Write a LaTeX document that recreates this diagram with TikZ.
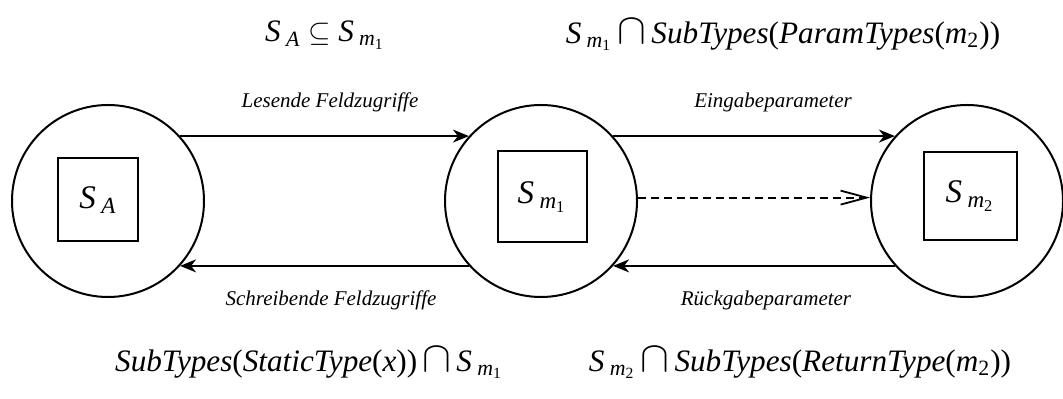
\documentclass[tikz,border=0pt]{standalone}
\usepackage{amsmath,amssymb}
\usepackage{fontspec}
\setmainfont{Liberation Serif}
\usetikzlibrary{arrows.meta,positioning}
\newcommand{\Sset}[1]{S\,$_{\textit{#1}}$}
\newcommand{\Sm}[1]{S\,$_{\textit{m}_{\textup{#1}}}$}
\newcommand{\capop}{\,\scalebox{1.5}{$\cap$}\,}
\newcommand{\pa}[1]{\textup{(}#1\textup{)}}
\tikzset{circ/.style={draw,circle,line width=1pt,minimum size=96pt,inner sep=0pt},
 sq/.style={draw,line width=1pt,inner sep=0pt,font=\fontsize{16.5}{20}\selectfont\itshape},
 arr/.style={-{Stealth[length=8pt,width=6.5pt,inset=2.5pt]},line width=.9pt},
 darr/.style={-{Straight Barb[length=13pt,width=7pt]},line width=.9pt,dash pattern=on 4pt off 2.5pt},
 lbl/.style={font=\fontsize{10.5}{12}\selectfont\itshape},
 frm/.style={font=\fontsize{15.6}{18}\selectfont\itshape}}
\begin{document}
\begin{tikzpicture}[x=0.5pt,y=-0.5pt]
\useasboundingbox (0,0) rectangle (1063,399);
% circles with the sets
\node[circ] (cA) at (108,201) {};
\node[circ] (cM1) at (541,201) {};
\node[circ] (cM2) at (967,201) {};
\node[sq,minimum width=40pt,minimum height=41.5pt] (sA) at (98,200) {\Sset{A}};
\node[sq,minimum width=44.5pt,minimum height=45.5pt] (sM1) at (542,197) {\Sm{1}};
\node[sq,minimum width=46.5pt,minimum height=44pt] (sM2) at (970,196) {\Sm{2}};
% connectors
\draw[arr] (cA.42) -- (cM1.138);
\draw[arr] (cM1.222) -- (cA.318);
\draw[arr] (cM1.42) -- (cM2.138);
\draw[arr] (cM2.222) -- (cM1.318);
\draw[darr] (cM1.2) -- (cM2.178);
\node[lbl] (lLes) at (330,102) {Lesende Feldzugriffe};
\node[lbl] (lEin) at (773,102) {Eingabeparameter};
\node[lbl] (lSchr) at (331,300) {Schreibende Feldzugriffe};
\node[lbl] (lRueck) at (766,300) {Rückgabeparameter};
% constraints
\node[frm] (fSub) at (325,35) {\Sset{A} $\subseteq$ \Sm{1}};
\node[frm] (fPar) at (783,35) {\Sm{1}\capop SubTypes\pa{ParamTypes\pa{\textit{m}$_{\textup{2}}$}}};
\node[frm] (fStat) at (309,363) {SubTypes\pa{StaticType\pa{x}}\capop\Sm{1}};
\node[frm] (fRet) at (800,363) {\Sm{2}\capop SubTypes\pa{ReturnType\pa{\textit{m}$_{\textup{2}}$}}};
\end{tikzpicture}
\end{document}
